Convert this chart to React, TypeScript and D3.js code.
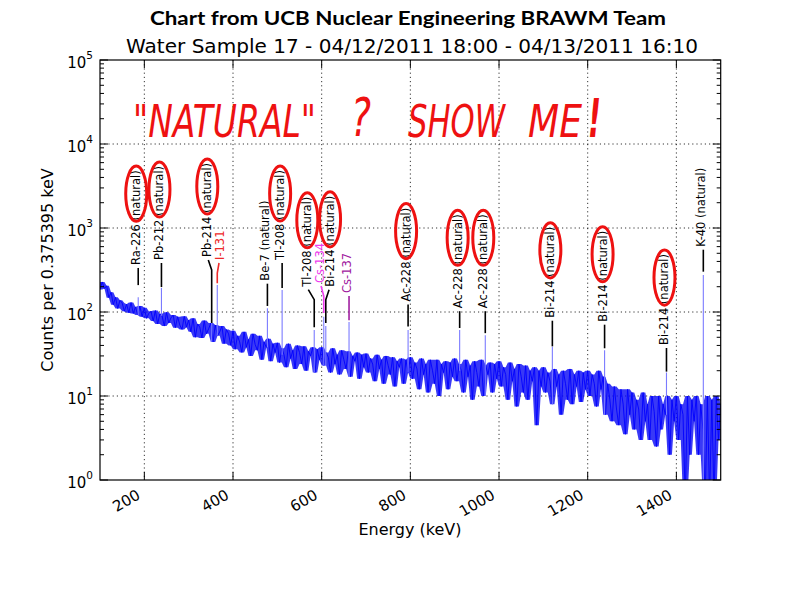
import React from 'react';
import * as d3 from 'd3';

// ---------- data ----------
const xTicks = [200, 400, 600, 800, 1000, 1200, 1400];
const yDecades = [1, 10, 100, 1000, 10000, 100000];
const xDomain = [100, 1500];
const yDomain = [1, 100000];

const spectrumStartKeV = 100;
const spectrumStepKeV = 5;
const spectrumCounts = [
  185, 228, 190, 205, 148, 172, 122, 150, 110, 138, 128, 102, 124, 98, 130, 96, 115, 92, 118, 88,
  112, 84, 96, 102, 78, 104, 72, 95, 90, 68, 99, 74, 85, 92, 65, 88, 70, 62, 89, 66,
  80, 58, 84, 50, 72, 66, 49, 79, 55, 63, 74, 44, 70, 52, 58, 68, 42, 62, 55, 40,
  60, 36, 52, 44, 33, 58, 38, 47, 30, 55, 41, 35, 52, 27, 44, 38, 48, 26, 42, 33,
  43, 25, 37, 31, 22, 42, 28, 35, 21, 40, 33, 24, 39, 20, 34, 30, 38, 19, 36, 27,
  38, 23, 33, 29, 19, 37, 24, 31, 18, 35, 27, 21, 34, 17, 30, 26, 33, 16, 31, 22,
  32, 19, 28, 24, 15, 31, 21, 27, 14, 30, 23, 18, 29, 13, 26, 22, 28, 14, 27, 19,
  29, 16, 25, 21, 12, 28, 18, 24, 11, 27, 20, 14, 27, 10, 24, 19, 26, 12, 25, 17,
  28, 15, 24, 20, 11, 27, 17, 23, 9, 26, 19, 13, 27, 10, 23, 18, 25, 11, 24, 16,
  26, 13, 22, 18, 9, 25, 15, 21, 7.5, 24, 17, 11, 23, 9, 20, 15, 22, 4.5, 20, 13,
  22, 11, 19, 15, 8, 21, 13, 18, 6, 20, 14, 9, 21, 8, 18, 13, 20, 8.5, 19, 12,
  20, 10, 18, 14, 7.5, 20, 12, 17, 6, 14, 9, 5, 13, 7, 4.5, 12, 8, 3.5, 12, 6,
  11, 4, 9, 7, 3, 11, 5, 8, 3, 10, 6.5, 2.5, 10, 4, 8, 6, 10, 2, 9, 5,
  10, 3, 8, 6, 0, 10, 2, 9, 5, 10, 2, 8, 4, 0, 10, 0, 9, 0, 10, 3,
  8,
];

const peakNames = ['Ra-226', 'Pb-212', 'Pb-214', 'I-131', 'Be-7', 'Tl-208', 'Tl-208', 'Cs-134', 'Bi-214',
  'Cs-137', 'Ac-228', 'Ac-228', 'Ac-228', 'Bi-214', 'Bi-214', 'Bi-214', 'K-40'];
const peakEnergies = [186.2, 238.6, 351.9, 364.5, 477.6, 510.8, 583.2, 604.7, 609.3,
  661.7, 794.9, 911.2, 969.0, 1120.3, 1238.1, 1377.7, 1460.8];
const peakCounts = [150, 193, 75, 210, 111, 183, 61, 88, 68, 76, 61, 61, 53, 38.6, 35, 19, 276];
const labelSuffixes = [' (natural)', ' (natural)', ' (natural)', '', ' (natural)', ' (natural)', ' (natural)', '',
  ' (natural)', '', ' (natural)', ' (natural)', ' (natural)', ' (natural)', ' (natural)', ' (natural)', ' (natural)'];
const labelEnergies = [181.7, 234.1, 342, 370.7, 473.1, 506.3, 567.6, 596.3, 618.9,
  657.2, 790.4, 906.7, 964.5, 1115.8, 1233.6, 1373.2, 1456.3];
const labelCounts = [363, 416, 452, 416, 236, 416, 200, 221, 200, 168, 133, 111, 111, 85.5, 76.7, 40.5, 599];
const leaderEndCounts = [209, 198, 74, 220, 118, 193, 66, 97, 74, 80, 67, 64.5, 56, 39, 37, 19.5, 302];
const circled = [true, true, true, false, false, true, true, false, true, false, true, true, true, true, true, true, false];

const labelColors: Record<string, string> = {
  'I-131': '#ee2a2a',
  'Cs-134': '#ee3cee',
  'Cs-137': '#a020a0',
};

// ---------- layout ----------
const W = 800;
const H = 600;
const left = 100;
const right = 720.7;
const top = 60;
const bottom = 480;

const labelSize = 11.5;

// DejaVu Sans advance widths (em)
const ADV: Record<string, number> = {
  ' ': 0.318, '-': 0.361, '(': 0.39, ')': 0.39, '0': 0.636, '1': 0.636, '2': 0.636, '3': 0.636,
  '4': 0.636, '5': 0.636, '6': 0.636, '7': 0.636, '8': 0.636, '9': 0.636,
  a: 0.613, b: 0.635, c: 0.55, e: 0.615, i: 0.278, l: 0.278, n: 0.634, r: 0.411, s: 0.521, t: 0.392, u: 0.634,
  A: 0.684, B: 0.686, C: 0.698, I: 0.295, K: 0.656, P: 0.603, R: 0.695, T: 0.611,
};
function textWidth(text: string, size: number): number {
  let w = 0;
  for (const ch of text) w += ADV[ch] ?? 0.6;
  return w * size;
}

export default function App() {
  const x = d3.scaleLinear().domain(xDomain).range([left, right]);
  const y = d3.scaleLog().domain(yDomain).range([bottom, top]);

  const yOf = (v: number) => (v > 0 ? y(v) : bottom + 20);
  const xOf = (i: number) => x(spectrumStartKeV + i * spectrumStepKeV);

  const line = d3
    .line<number>()
    .x((_, i) => xOf(i))
    .y((v) => yOf(v));
  const spectrumPath = line(spectrumCounts) || '';

  // solid core of the band: between the local highs and lows of the trace
  const near = (i: number) => [
    spectrumCounts[Math.max(0, i - 1)],
    spectrumCounts[i],
    spectrumCounts[Math.min(spectrumCounts.length - 1, i + 1)],
  ];
  const core = d3
    .area<number>()
    .x((_, i) => xOf(i))
    .y0((_, i) => yOf(Math.min(...near(i))))
    .y1((_, i) => yOf(Math.max(...near(i))));
  const corePath = core(spectrumCounts) || '';

  const minorTicks: number[] = [];
  yDecades.slice(0, -1).forEach((d) => {
    for (let k = 2; k <= 9; k++) minorTicks.push(d * k);
  });

  const baseAt = (e: number) => {
    const i = Math.floor((e - spectrumStartKeV) / spectrumStepKeV);
    const a = spectrumCounts[Math.max(0, i)];
    const b = spectrumCounts[Math.min(spectrumCounts.length - 1, i + 1)];
    return Math.max(1, Math.min(a, b));
  };

  const gridStyle = { stroke: '#000', strokeWidth: 0.8, strokeDasharray: '1.2,3' };

  return (
    <svg
      width={W}
      height={H}
      viewBox={`0 0 ${W} ${H}`}
      style={{ position: 'absolute', left: 0, top: 0, background: '#fff' }}
    >
      <defs>
        <clipPath id="plotClip">
          <rect x={left} y={top} width={right - left} height={bottom - top} />
        </clipPath>
      </defs>
      <rect x={0} y={0} width={W} height={H} fill="#fff" />

      {/* titles */}
      <text
        x={408}
        y={25}
        textAnchor="middle"
        fontFamily="Lato"
        fontWeight={700}
        fontSize={19.5}
        textLength={516}
        lengthAdjust="spacingAndGlyphs"
        fill="#000"
      >
        Chart from UCB Nuclear Engineering BRAWM Team
      </text>
      <text
        x={412}
        y={53}
        textAnchor="middle"
        fontFamily="DejaVu Sans"
        fontSize={19.5}
        textLength={572}
        lengthAdjust="spacingAndGlyphs"
        fill="#000"
      >
        Water Sample 17 - 04/12/2011 18:00 - 04/13/2011 16:10
      </text>

      {/* grid */}
      <g>
        {xTicks.map((t) => (
          <line key={`gx${t}`} x1={x(t)} x2={x(t)} y1={top} y2={bottom} style={gridStyle} />
        ))}
        {yDecades.slice(1, -1).map((d) => (
          <line key={`gy${d}`} x1={left} x2={right} y1={y(d)} y2={y(d)} style={gridStyle} />
        ))}
      </g>

      {/* spectrum */}
      <g clipPath="url(#plotClip)">
        <path d={corePath} fill="#0808f4" fillOpacity={0.8} stroke="none" />
        <path d={spectrumPath} fill="none" stroke="#0000ff" strokeWidth={0.9} strokeLinejoin="miter" />
        {peakEnergies.map((e, i) => (
          <line
            key={`pk${i}`}
            x1={x(e)}
            x2={x(e)}
            y1={y(peakCounts[i])}
            y2={y(baseAt(e))}
            stroke="#7b7bff"
            strokeWidth={1.1}
          />
        ))}
      </g>

      {/* annotations */}
      <g>
        {peakNames.map((name, i) => {
          const color = labelColors[name] || '#000';
          const tx = x(labelEnergies[i]);
          const ty = y(labelCounts[i]);
          const px = x(peakEnergies[i]);
          const yEnd = y(leaderEndCounts[i]);
          const dx = px - tx;
          let d: string;
          if (Math.abs(dx) <= 2.6) {
            d = `M${px},${ty + 3}L${px},${yEnd}`;
          } else {
            d = `M${tx + Math.sign(dx) * 1},${ty + 3}L${px},${ty + 13}L${px},${yEnd}`;
          }
          const full = name + labelSuffixes[i];
          let ellipse = null;
          if (circled[i]) {
            const pw = textWidth(name + ' ', labelSize);
            const nw = textWidth('(natural)', labelSize);
            ellipse = (
              <ellipse
                cx={tx}
                cy={ty - pw - nw / 2 - 1.5}
                rx={10.5}
                ry={nw / 2 + 2.5}
                fill="none"
                stroke="#ee1111"
                strokeWidth={3}
              />
            );
          }
          return (
            <g key={`an${i}`}>
              <path d={d} fill="none" stroke={color} strokeWidth={1.6} />
              <text
                transform={`translate(${tx},${ty}) rotate(-90)`}
                fontFamily="DejaVu Sans"
                fontSize={labelSize}
                dominantBaseline="central"
                fill={color}
              >
                {full}
              </text>
              {ellipse}
            </g>
          );
        })}
      </g>

      {/* big red text */}
      <g fill="#ee1111" fontFamily="DejaVu Sans Condensed, DejaVu Sans" fontStyle="italic" fontSize={44}>
        <text x={133} y={137} textLength={183} lengthAdjust="spacingAndGlyphs">"NATURAL"</text>
        <text x={351} y={136} fontSize={54} textLength={20} lengthAdjust="spacingAndGlyphs">?</text>
        <text x={408} y={137} textLength={97} lengthAdjust="spacingAndGlyphs">SHOW</text>
        <text x={528} y={137} textLength={54} lengthAdjust="spacingAndGlyphs">ME</text>
        <text x={588} y={137} fontSize={54} fontWeight={700} textLength={13} lengthAdjust="spacingAndGlyphs">!</text>
      </g>

      {/* axes frame and ticks */}
      <g stroke="#000" strokeWidth={1}>
        {xTicks.map((t) => (
          <g key={`tx${t}`}>
            <line x1={x(t)} x2={x(t)} y1={bottom} y2={bottom - 8} />
            <line x1={x(t)} x2={x(t)} y1={top} y2={top + 8} />
          </g>
        ))}
        {yDecades.map((d) => (
          <g key={`ty${d}`}>
            <line x1={left} x2={left + 8} y1={y(d)} y2={y(d)} />
            <line x1={right} x2={right - 8} y1={y(d)} y2={y(d)} />
          </g>
        ))}
        {minorTicks.map((d) => (
          <g key={`tm${d}`}>
            <line x1={left} x2={left + 4} y1={y(d)} y2={y(d)} />
            <line x1={right} x2={right - 4} y1={y(d)} y2={y(d)} />
          </g>
        ))}
      </g>
      <rect x={left} y={top} width={right - left} height={bottom - top} fill="none" stroke="#000" strokeWidth={1.2} />

      {/* tick labels */}
      <g fontFamily="DejaVu Sans" fontSize={15} fill="#000">
        {xTicks.map((t) => (
          <text key={`lx${t}`} transform={`translate(${x(t) - 3},${498}) rotate(-30)`} textAnchor="end">
            {t}
          </text>
        ))}
        {yDecades.map((d) => (
          <text key={`ly${d}`} x={93} y={y(d) + 7.5} textAnchor="end">
            10
            <tspan dy={-8.5} fontSize={10.5}>
              {Math.round(Math.log10(d))}
            </tspan>
          </text>
        ))}
      </g>

      {/* axis labels */}
      <text x={410} y={535} textAnchor="middle" fontFamily="DejaVu Sans" fontSize={16} fill="#000">
        Energy (keV)
      </text>
      <text
        transform={`translate(53,${(top + bottom) / 2}) rotate(-90)`}
        textAnchor="middle"
        fontFamily="DejaVu Sans"
        fontSize={16}
        fill="#000"
      >
        Counts per 0.375395 keV
      </text>
    </svg>
  );
}
